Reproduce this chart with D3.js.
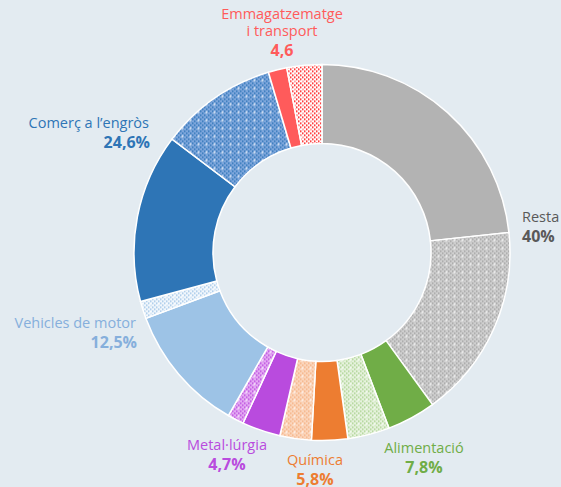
<!DOCTYPE html>
<html>
<head>
<meta charset="utf-8">
<script src="https://cdn.jsdelivr.net/npm/d3@7"></script>
<style>
  html, body { margin: 0; padding: 0; background: #e3ebf1; }
  svg { display: block; font-family: "Open Sans", sans-serif; }
</style>
</head>
<body>
<div id="donut"></div>
<script>
// categories (clockwise from top)
const categories = ["Resta", "Alimentació", "Química", "Metal·lúrgia", "Vehicles de motor", "Comerç a l’engròs", "Emmagatzematge i transport"]
// each category is split in a solid part and a hatched part
const solidValues = [23.3, 4.2, 3.1, 3.3, 11.0, 14.5, 1.6]
const patternValues = [16.7, 3.6, 2.7, 1.4, 1.5, 10.1, 3.0]
const totalLabels = ["40%", "7,8%", "5,8%", "4,7%", "12,5%", "24,6%", "4,6"]
const nameLines = [["Resta"], ["Alimentació"], ["Química"], ["Metal·lúrgia"], ["Vehicles de motor"], ["Comerç a l’engròs"], ["Emmagatzematge", "i transport"]]

const solidColors = ["#b3b3b3", "#70ad47", "#ed7d31", "#b94bde", "#9dc3e6", "#2e75b6", "#ff5b5b"]
const patternFg = ["#a3a3a3", "#a9d18e", "#f4b183", "#b94bde", "#9dc3e6", "#2e75b6", "#ff0000"]
const patternBg = ["#cfcfcf", "#e6f2dd", "#fbd6bd", "#e4aaf3", "#f2f7fc", "#7ea6dc", "#ffffff"]
const textColors = ["#595959", "#70ad47", "#ed7d31", "#b94bde", "#86afdc", "#2e75b6", "#ff5b5b"]

const width = 561, height = 487
const cx = 322, cy = 252.5
const outerR = 188, innerR = 109

const svg = d3.select("#donut").append("svg")
    .attr("width", width)
    .attr("height", height)

// hatch patterns: small checkerboard with white plus marks
const defs = svg.append("defs")
categories.forEach((c, i) => {
    const p = defs.append("pattern")
        .attr("id", "pat" + i)
        .attr("patternUnits", "userSpaceOnUse")
        .attr("width", 8).attr("height", 8)
    p.append("rect").attr("width", 8).attr("height", 8).attr("fill", patternBg[i])
    for (let y = 0; y < 8; y += 2) {
        for (let x = 0; x < 8; x += 2) {
            if (((x + y) / 2) % 2 === 0) {
                p.append("rect").attr("x", x).attr("y", y).attr("width", 1.5).attr("height", 1.5).attr("fill", patternFg[i])
            }
        }
    }
    p.append("rect").attr("x", 3).attr("y", 3.5).attr("width", 3).attr("height", 1).attr("fill", "#fff").attr("opacity", 0.55)
    p.append("rect").attr("x", 4).attr("y", 2.5).attr("width", 1).attr("height", 3).attr("fill", "#fff").attr("opacity", 0.55)
})

// flatten into pie segments
const segments = []
categories.forEach((c, i) => {
    segments.push({ cat: i, value: solidValues[i], fill: solidColors[i] })
    segments.push({ cat: i, value: patternValues[i], fill: "url(#pat" + i + ")" })
})

const pie = d3.pie().sort(null).value(d => d.value)
const arc = d3.arc().innerRadius(innerR).outerRadius(outerR)

const g = svg.append("g").attr("transform", `translate(${cx},${cy})`)

g.selectAll("path")
    .data(pie(segments))
    .enter().append("path")
    .attr("d", arc)
    .attr("fill", d => d.data.fill)
    .attr("stroke", "#fff")
    .attr("stroke-width", 1.5)

// label anchors (x, baseline of first line, anchor)
const labelPos = [
    { x: 522, y: 222, anchor: "start" },
    { x: 424, y: 453, anchor: "middle" },
    { x: 315, y: 465, anchor: "middle" },
    { x: 227, y: 450, anchor: "middle" },
    { x: 136, y: 328, anchor: "end" },
    { x: 149, y: 128, anchor: "end" },
    { x: 282, y: 19, anchor: "middle" }
]

categories.forEach((c, i) => {
    const pos = labelPos[i]
    const t = svg.append("g")
    nameLines[i].forEach((line, k) => {
        t.append("text")
            .attr("x", pos.x)
            .attr("y", pos.y + k * 17)
            .attr("text-anchor", pos.anchor)
            .attr("font-size", 14.5)
            .attr("fill", textColors[i])
            .text(line)
    })
    t.append("text")
        .attr("x", pos.x + (pos.anchor === "end" ? 1 : 0))
        .attr("y", pos.y + (nameLines[i].length - 1) * 17 + 20)
        .attr("text-anchor", pos.anchor)
        .attr("font-size", 16)
        .attr("font-weight", "bold")
        .attr("fill", textColors[i])
        .text(totalLabels[i])
})
</script>
</body>
</html>
